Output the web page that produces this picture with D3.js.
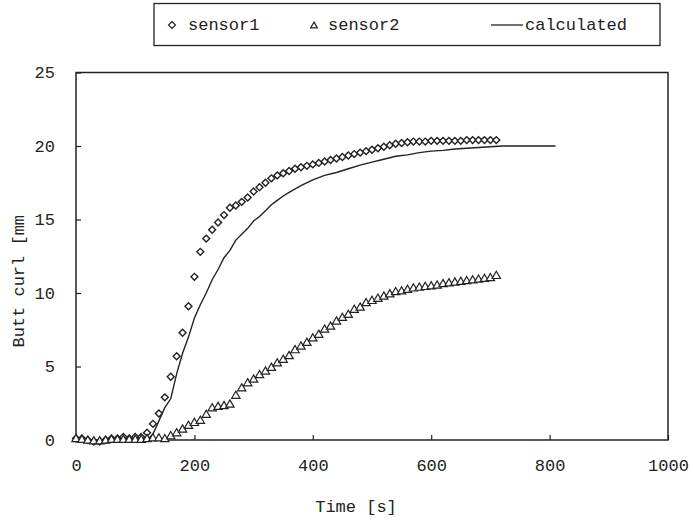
<!DOCTYPE html>
<html>
<head>
<meta charset="utf-8">
<script src="https://cdn.jsdelivr.net/npm/d3@7"></script>
<style>
  body { margin: 0; background: #fff; }
  text { font-family: "Liberation Mono", "Courier New", monospace; fill: #222; }
</style>
</head>
<body>
<div id="chart"></div>
<script>
// time steps (s) of the two sensors
var sensorTime = d3.range(0, 720, 10);

var sensor1 = [0.1, 0.1, 0.0, -0.1, -0.1, 0.0, 0.1, 0.1, 0.2, 0.1, 0.2, 0.2,
  0.5, 1.1, 1.8, 2.9, 4.3, 5.7, 7.3, 9.1, 11.1, 12.8, 13.7, 14.3, 14.8, 15.3,
  15.8, 15.95, 16.2, 16.5, 16.9, 17.2, 17.5, 17.8, 18.0, 18.15, 18.3, 18.45,
  18.55, 18.65, 18.75, 18.85, 18.95, 19.05, 19.15, 19.25, 19.35, 19.45, 19.55,
  19.65, 19.75, 19.85, 19.95, 20.05, 20.15, 20.2, 20.25, 20.3, 20.3, 20.3,
  20.35, 20.35, 20.35, 20.35, 20.35, 20.35, 20.4, 20.4, 20.4, 20.4, 20.4, 20.4];

var sensor2 = [0.05, 0.0, -0.05, -0.1, -0.1, -0.05, 0.0, 0.0, 0.0, 0.0, 0.0, 0.0,
  0.05, 0.1, 0.1, 0.05, 0.25, 0.45, 0.7, 0.95, 1.15, 1.3, 1.7, 2.15, 2.25, 2.3,
  2.4, 3.0, 3.5, 3.85, 4.1, 4.4, 4.65, 4.9, 5.2, 5.45, 5.7, 6.1, 6.35, 6.6, 6.9,
  7.15, 7.5, 7.7, 8.05, 8.3, 8.5, 8.85, 9.0, 9.3, 9.45, 9.6, 9.75, 9.9, 10.05,
  10.1, 10.2, 10.3, 10.35, 10.4, 10.45, 10.5, 10.6, 10.65, 10.7, 10.75, 10.8,
  10.85, 10.9, 10.95, 11.0, 11.15];

var calcTime = [0, 20, 40, 60, 80, 100, 120, 130, 140, 150, 160, 170, 180, 190,
  200, 210, 220, 230, 240, 250, 260, 270, 280, 290, 300, 310, 320, 330, 340, 350,
  360, 380, 400, 420, 440, 460, 480, 500, 520, 540, 560, 580, 600, 620, 640, 660,
  680, 700, 720, 760, 810];
var calculated = [0, 0, 0, 0, 0, 0, 0, 0.4, 1.3, 2.2, 2.8, 4.5, 5.9, 7.0,
  8.3, 9.2, 10.0, 10.9, 11.6, 12.4, 12.9, 13.6, 14.0, 14.4, 14.9, 15.2, 15.6, 16.0, 16.3, 16.6,
  16.85, 17.3, 17.7, 18.0, 18.2, 18.45, 18.7, 18.9, 19.1, 19.3, 19.4, 19.55, 19.65, 19.7, 19.8, 19.85,
  19.9, 19.95, 20.0, 20.0, 20.0];

var xTicks = [0, 200, 400, 600, 800, 1000];
var yTicks = [0, 5, 10, 15, 20, 25];
var legendLabels = ["sensor1", "sensor2", "calculated"];

var width = 693, height = 520;
var margin = {top: 72.5, right: 25, bottom: 80, left: 76};

var svg = d3.select("#chart")
  .append("svg")
    .attr("width", width)
    .attr("height", height);

var x = d3.scaleLinear().domain([0, 1000]).range([margin.left, width - margin.right]);
var y = d3.scaleLinear().domain([0, 25]).range([height - margin.bottom, margin.top]);

// frame
svg.append("rect")
  .attr("x", x(0)).attr("y", y(25))
  .attr("width", x(1000) - x(0)).attr("height", y(0) - y(25))
  .attr("fill", "none").attr("stroke", "#222").attr("stroke-width", 1.5);

// axes, ticks pointing inside
var xAxis = svg.append("g")
  .attr("transform", "translate(0," + y(0) + ")")
  .call(d3.axisBottom(x).tickValues(xTicks).tickFormat(d3.format("d"))
    .tickSize(-5).tickPadding(19));
var yAxis = svg.append("g")
  .attr("transform", "translate(" + x(0) + ",0)")
  .call(d3.axisLeft(y).tickValues(yTicks).tickSize(-5).tickPadding(21));

[xAxis, yAxis].forEach(function(g) {
  g.select(".domain").remove();
  g.selectAll("line").attr("stroke", "#222").attr("stroke-width", 1.2);
  g.selectAll("text").style("font-size", "17px")
    .style("font-family", "'Liberation Mono', monospace").attr("fill", "#222");
});

// calculated line
svg.append("path")
  .datum(calcTime.map(function(t, i) { return [t, calculated[i]]; }))
  .attr("fill", "none")
  .attr("stroke", "#222")
  .attr("stroke-width", 1.4)
  .attr("d", d3.line()
    .x(function(d) { return x(d[0]); })
    .y(function(d) { return y(d[1]); }));

var diamond = d3.symbol().type(d3.symbolSquare).size(24);
var triangle = d3.symbol().type(d3.symbolTriangle).size(30);

// sensor1 diamonds
svg.selectAll(".s1")
  .data(sensor1)
  .enter()
  .append("path")
    .attr("class", "s1")
    .attr("d", diamond)
    .attr("transform", function(d, i) {
      return "translate(" + x(sensorTime[i]) + "," + y(d) + ") rotate(45)";
    })
    .attr("fill", "#fff").attr("stroke", "#222").attr("stroke-width", 1.4);

// sensor2 triangles
svg.selectAll(".s2")
  .data(sensor2)
  .enter()
  .append("path")
    .attr("class", "s2")
    .attr("d", triangle)
    .attr("transform", function(d, i) {
      return "translate(" + x(sensorTime[i]) + "," + y(d) + ")";
    })
    .attr("fill", "#fff").attr("stroke", "#222").attr("stroke-width", 1.2);

// axis titles
svg.append("text")
  .attr("x", 356)
  .attr("y", 512)
  .attr("text-anchor", "middle")
  .style("font-size", "17px")
  .text("Time [s]");

svg.append("text")
  .attr("transform", "translate(24," + y(10.8) + ") rotate(-90)")
  .attr("text-anchor", "middle")
  .style("font-size", "17px")
  .text("Butt curl [mm");

// legend
var legend = svg.append("g");
legend.append("rect")
  .attr("x", 154).attr("y", 3.5)
  .attr("width", 506).attr("height", 42)
  .attr("fill", "#fff").attr("stroke", "#222").attr("stroke-width", 1.3);

legend.append("path")
  .attr("d", diamond)
  .attr("transform", "translate(172,25) rotate(45)")
  .attr("fill", "#fff").attr("stroke", "#222").attr("stroke-width", 1.2);
legend.append("path")
  .attr("d", d3.symbol().type(d3.symbolTriangle).size(20))
  .attr("transform", "translate(314,26)")
  .attr("fill", "#fff").attr("stroke", "#222").attr("stroke-width", 1.2);
legend.append("line")
  .attr("x1", 491).attr("x2", 523).attr("y1", 25).attr("y2", 25)
  .attr("stroke", "#222").attr("stroke-width", 1.3);

var legendX = [188, 328, 525];
legend.selectAll(".lt")
  .data(legendLabels)
  .enter()
  .append("text")
    .attr("class", "lt")
    .attr("x", function(d, i) { return legendX[i]; })
    .attr("y", 30)
    .style("font-size", "17px")
    .text(function(d) { return d; });
</script>
</body>
</html>
